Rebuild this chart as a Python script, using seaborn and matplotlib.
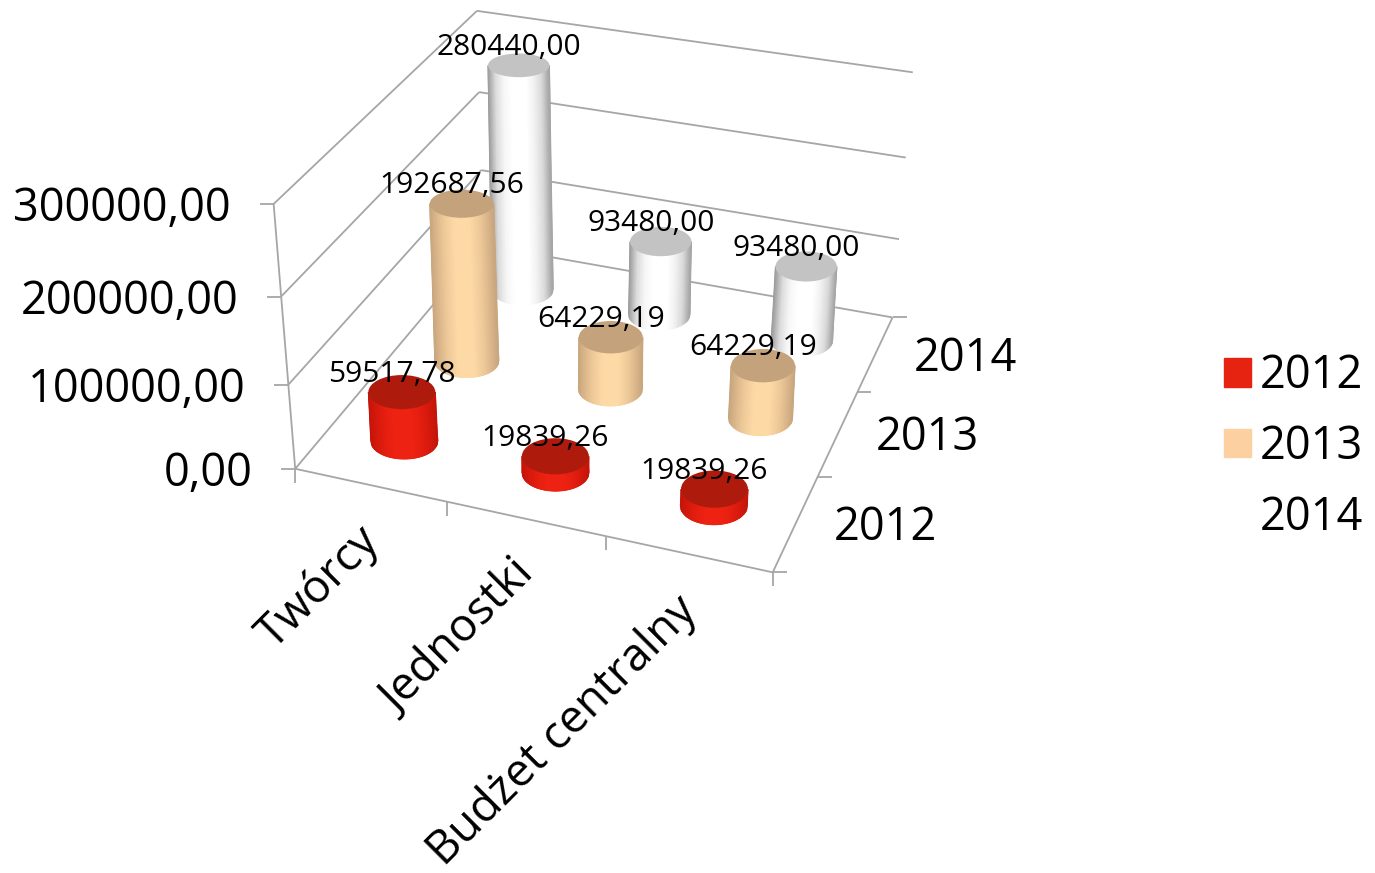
import matplotlib
matplotlib.use("Agg")
import matplotlib.patches as mpatches
import matplotlib.pyplot as plt
import numpy as np
import seaborn as sns

categories = ["Twórcy", "Jednostki", "Budżet centralny"]
years = ["2012", "2013", "2014"]
values_2012 = [59517.78, 19839.26, 19839.26]
values_2013 = [192687.56, 64229.19, 64229.19]
values_2014 = [280440.00, 93480.00, 93480.00]
value_ticks = [0, 100000, 200000, 300000]

sns.set_theme(style="white")
plt.rcParams["font.family"] = ["Open Sans", "DejaVu Sans"]

legend_colors = ["#e52310", "#fdd0a2", "#ffffff"]
top_colors = ["#ae1a0c", "#c4a27b", "#c3c3c3"]
body_stops = [
    ["#c4150a", "#d81a0d", "#e61f10", "#ee2212", "#ee2212", "#ee2212", "#e61f10", "#d81a0d", "#c4150a"],
    ["#c8a67e", "#e0bb8e", "#f2cd9c", "#fdd9a6", "#fdd9a6", "#fdd9a6", "#f2cd9c", "#e0bb8e", "#c8a67e"],
    ["#9c9c9c", "#dcdcdc", "#f6f6f6", "#ffffff", "#ffffff", "#ffffff", "#f2f2f2", "#dadada", "#a4a4a4"],
]
radii = [33.5, 32.0, 30.7]
grid_color = "#a6a6a6"

# camera: chart corners (category, year, value step) -> where they sit in the image
chart_pts = np.array([
    (0, 0, 0), (0, 0, 1), (0, 0, 2), (0, 0, 3), (0, 3, 3), (0, 3, 2), (0, 3, 1),
    (3, 0, 0), (3, 3, 0), (3, 3, 1), (3, 3, 2), (3, 3, 3), (3, 1, 0), (3, 2, 0),
    (1, 0, 0), (2, 0, 0),
], dtype=float)
image_pts = np.array([
    (295, 468), (288, 384), (281.7, 296), (273.5, 205), (476.7, 11), (479, 92), (481.7, 170),
    (772.7, 571.7), (892, 318), (900, 240), (905, 157), (913, 72), (818, 476), (857, 392),
    (446.7, 503), (606, 537),
])
rows, rhs = [], []
for (x, y, z), (u, v) in zip(chart_pts, image_pts):
    rows.append([x, y, z, 1, 0, 0, 0, 0, -u * x, -u * y, -u * z])
    rows.append([0, 0, 0, 0, x, y, z, 1, -v * x, -v * y, -v * z])
    rhs += [u, v]
cam = np.linalg.lstsq(np.array(rows), np.array(rhs), rcond=None)[0]
cam = np.append(cam, 1).reshape(3, 4)


def project(x, y, value=0):
    p = cam @ np.array([x, y, value / 100000, 1.0])
    return p[0] / p[2], p[1] / p[2]


def minor_axis(py):
    # the view gets flatter the higher up the picture
    return 10.8 + 0.016 * py


fig = plt.figure(figsize=(13.75, 8.73), dpi=100)
ax = fig.add_axes([0, 0, 1, 1])


def line(a, b):
    ax.plot([a[0], b[0]], [a[1], b[1]], color=grid_color, lw=1.3, zorder=1, solid_capstyle="butt")


# walls and floor edges
for v in value_ticks:
    line(project(0, 0, v), project(0, 3, v))
    line(project(0, 3, v), project(3, 3, v))
    px, py = project(0, 0, v)
    line((px, py), (px - 14, py))
line(project(0, 0, 0), project(0, 0, 300000))
line(project(0, 0, 0), project(3, 0, 0))
line(project(3, 0, 0), project(3, 3, 0))
for c in range(4):
    px, py = project(c, 0)
    line((px, py), (px, py + 14))
for y in range(4):
    px, py = project(3, y)
    line((px, py), (px + 14, py))

# cylinders, back row first
all_values = [values_2012, values_2013, values_2014]
labels = []
for yi in [2, 1, 0]:
    cmap = sns.blend_palette(body_stops[yi], as_cmap=True)
    for ci, val in enumerate(all_values[yi]):
        bx, by = project(ci + 0.5, yi + 0.5, 0)
        tx, ty = project(ci + 0.5, yi + 0.5, val)
        a = radii[yi]
        z = 3 + (2 - yi)
        s = np.linspace(-1, 1, 81)
        arc = np.sqrt(1 - s ** 2)
        xgrid = np.vstack([bx + a * s, tx + a * s])
        ygrid = np.vstack([by + minor_axis(by) * arc, ty + minor_axis(ty) * arc])
        shade = np.vstack([(s + 1) / 2, (s + 1) / 2])
        ax.pcolormesh(xgrid, ygrid, shade, shading="gouraud", cmap=cmap, vmin=0, vmax=1, zorder=z)
        ax.add_patch(mpatches.Ellipse((tx, ty), 2 * a, 2 * minor_axis(ty), fc=top_colors[yi], ec="none", zorder=z))
        labels.append((tx - 10, ty - 18, f"{val:.2f}".replace(".", ",")))

for lx, ly, s in labels:
    ax.text(lx, ly, s, ha="center", va="center", fontsize=21.5, color="black", zorder=10)

# axis labels
axis_size = 32.5
for v in value_ticks:
    px, py = project(0, 0, v)
    ax.text(px - 43, py + 5, f"{v:.2f}".replace(".", ","), ha="right", va="center", fontsize=axis_size, color="black")
for yi, yr in enumerate(years):
    px, py = project(3, yi + 0.5)
    ax.text(px + 38, py + 5, yr, ha="left", va="center", fontsize=axis_size, color="black")
for ci, cat in enumerate(categories):
    px, py = project(ci + 0.5, 0)
    ax.text(px - 14, py + 33, cat, ha="right", va="top", rotation=45, rotation_mode="anchor",
            fontsize=33, color="black")

handles = [mpatches.Patch(color=c, label=y) for c, y in zip(legend_colors, years)]
ax.legend(handles=handles, loc="center left", bbox_to_anchor=(1224, 447), bbox_transform=ax.transData,
          frameon=False, fontsize=axis_size, labelcolor="black", handlelength=0.6, handleheight=0.6,
          handletextpad=0.2, labelspacing=0.55, borderpad=0, borderaxespad=0)

ax.set_xlim(0, 1375)
ax.set_ylim(873, 0)
ax.axis("off")

fig.savefig("out.png", dpi=100)
